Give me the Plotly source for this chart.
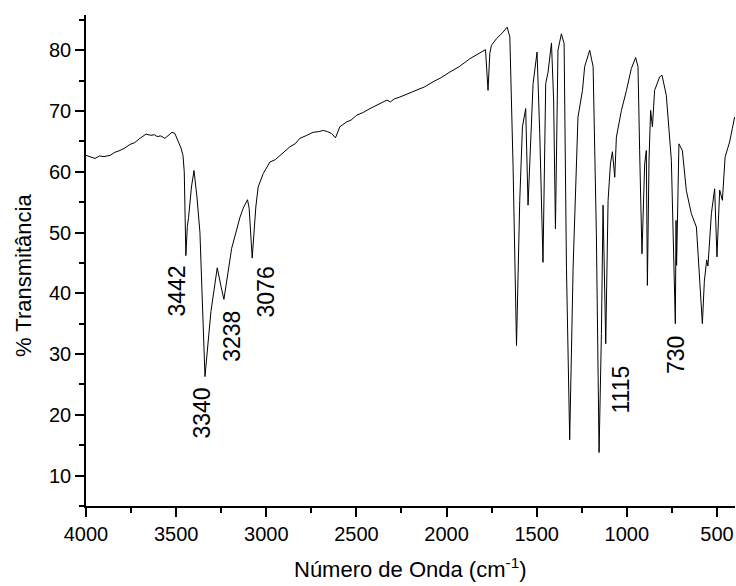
import plotly.graph_objects as go

# IR spectrum: wavenumber (cm-1) and % transmittance
wavenumber = [
    4000, 3975, 3950, 3925, 3900, 3867, 3840, 3812, 3785, 3756, 3730, 3701, 3685, 3667,
    3640, 3620, 3606, 3585, 3562, 3545, 3523, 3507, 3490, 3480, 3473, 3462, 3455, 3446,
    3438, 3431, 3415, 3401, 3385, 3368, 3340, 3307, 3272, 3250, 3235, 3192, 3146, 3128,
    3104, 3095, 3078, 3058, 3045, 3017, 2980, 2950, 2924, 2895, 2869, 2840, 2814, 2775,
    2740, 2710, 2684, 2660, 2638, 2616, 2592, 2555, 2530, 2499, 2460, 2425, 2390, 2352,
    2330, 2311, 2290, 2259, 2210, 2167, 2120, 2075, 2030, 1982, 1930, 1871, 1830, 1797,
    1784, 1770, 1760, 1751, 1723, 1686, 1664, 1649, 1631, 1612, 1594, 1579, 1561, 1548,
    1520, 1498, 1483, 1465, 1450, 1437, 1418, 1406, 1396, 1382, 1363, 1348, 1338, 1335,
    1317, 1298, 1271, 1246, 1234, 1206, 1187, 1169, 1154, 1141, 1132, 1117, 1104, 1091,
    1080, 1067, 1058, 1030, 1002, 975, 951, 938, 929, 916, 901, 892, 886, 877, 868, 858,
    846, 818, 805, 781, 753, 731, 727, 724, 711, 692, 670, 642, 614, 581, 570, 557, 550,
    531, 513, 500, 485, 470, 455, 442, 430, 415, 402,
]
transmittance = [
    62.7, 62.4, 62.2, 62.6, 62.5, 62.7, 63.2, 63.5, 63.9, 64.5, 64.8, 65.5, 65.8, 66.2,
    66.0, 66.1, 65.8, 65.9, 65.5, 66.0, 66.5, 66.3, 65.2, 64.5, 63.9, 62.7, 60.0, 46.2,
    51.0, 52.5, 57.5, 60.2, 56.0, 50.0, 26.3, 37.0, 44.2, 41.0, 39.0, 47.4, 52.5, 54.0,
    55.4, 54.0, 45.8, 54.2, 57.5, 59.7, 61.6, 62.0, 62.7, 63.5, 64.1, 64.6, 65.5, 66.0,
    66.5, 66.6, 66.8, 66.6, 66.3, 65.6, 67.4, 68.2, 68.5, 69.3, 69.8, 70.4, 70.9, 71.5,
    71.8, 71.5, 72.0, 72.3, 72.9, 73.4, 74.0, 74.8, 75.5, 76.4, 77.3, 78.6, 79.3, 80.0,
    80.1, 73.4, 79.5, 80.8, 81.9, 83.0, 83.8, 82.2, 60.8, 31.4, 55.3, 67.4, 70.4, 54.5,
    74.5, 79.7, 66.3, 45.1, 74.5, 76.4, 81.2, 71.8, 50.6, 80.0, 82.7, 81.1, 58.0, 44.3,
    15.9, 44.3, 69.0, 73.4, 77.3, 80.0, 77.3, 49.8, 13.8, 33.4, 54.5, 31.7, 55.3, 61.3,
    63.3, 59.1, 65.7, 70.1, 73.4, 77.0, 78.8, 77.3, 63.5, 46.5, 61.3, 63.5, 41.3, 61.9,
    70.1, 67.4, 73.4, 75.6, 75.9, 72.6, 61.9, 35.0, 52.0, 44.6, 64.6, 63.5, 56.9, 53.1,
    50.9, 35.0, 42.0, 45.5, 44.5, 53.1, 57.2, 46.0, 57.0, 55.3, 62.4, 63.8, 64.9, 67.1,
    69.0,
]

peak_labels = ["3442", "3340", "3238", "3076", "1115", "730"]
peak_wn = [3446, 3340, 3235, 3078, 1117, 731]
peak_t = [46.2, 26.3, 39.0, 45.8, 31.7, 35.0]

y_ticks = [10, 20, 30, 40, 50, 60, 70, 80]
x_ticks = [4000, 3500, 3000, 2500, 2000, 1500, 1000, 500]

FONT = "Liberation Sans, Arial, sans-serif"

fig = go.Figure()
fig.add_trace(go.Scatter(
    x=wavenumber, y=transmittance, mode="lines",
    line=dict(color="black", width=1), showlegend=False, hoverinfo="skip",
))

# label offsets in pixels (dx, dy) relative to each band minimum
offsets = [(-8.5, -8), (-2.5, -9), (8, -9), (13.7, -6), (15, -20), (0, -10)]
for txt, wx, ty, (dx, dy) in zip(peak_labels, peak_wn, peak_t, offsets):
    fig.add_annotation(
        x=wx, y=ty, xref="x", yref="y", text=txt, showarrow=False,
        textangle=-90, xanchor="center", yanchor="top",
        xshift=dx, yshift=dy, font=dict(family=FONT, size=23, color="black"),
    )

# axis titles
fig.add_annotation(
    x=0.5, y=0, xref="paper", yref="paper", yshift=-62, yanchor="middle",
    text="Número de Onda (cm<sup>-1</sup>)", showarrow=False,
    font=dict(family=FONT, size=22, color="black"),
)
fig.add_annotation(
    x=-63 / 649, y=(506 - 276) / 491, xref="paper", yref="paper",
    xanchor="center", yanchor="middle", textangle=-90,
    text="% Transmitância", showarrow=False,
    font=dict(family=FONT, size=22, color="black"),
)

axis_common = dict(
    showline=True, linecolor="black", linewidth=1.5, mirror=False,
    showgrid=False, zeroline=False, ticks="outside", ticklen=9, tickwidth=1.5,
    tickcolor="black", tickfont=dict(family=FONT, size=20, color="black"),
)

fig.update_xaxes(
    range=[4000, 400], tickmode="array", tickvals=x_ticks,
    minor=dict(dtick=250, tick0=0, ticks="outside", ticklen=5, tickwidth=1.5, tickcolor="black"),
    **axis_common,
)
fig.update_yaxes(
    range=[5, 85.8], tickmode="array", tickvals=y_ticks,
    minor=dict(dtick=5, tick0=0, ticks="outside", ticklen=5, tickwidth=1.5, tickcolor="black"),
    **axis_common,
)

fig.update_layout(
    width=736, height=586,
    margin=dict(l=86, r=1, t=15, b=80),
    plot_bgcolor="white", paper_bgcolor="white",
)

fig.write_html("out.html")
